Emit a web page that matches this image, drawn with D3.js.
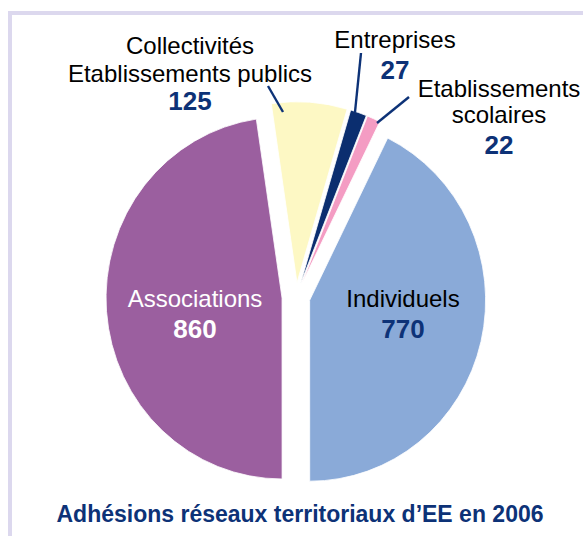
<!DOCTYPE html>
<html>
<head>
<meta charset="utf-8">
<script src="https://cdn.jsdelivr.net/npm/d3@7"></script>
<style>
  body { margin: 0; background: #fff; }
  svg text { font-family: "Liberation Sans", Arial, Helvetica, sans-serif; }
</style>
</head>
<body>
<div id="chart"></div>
<script>
// data
const categories = ["Collectivités / Etablissements publics", "Entreprises", "Etablissements scolaires", "Individuels", "Associations"];
const values = [125, 27, 22, 770, 860];
const colors = ["#fdf8c4", "#0b2e6f", "#f49cc3", "#8aaad8", "#9b5f9f"];
const labelLines = [
    ["Collectivités", "Etablissements publics"],
    ["Entreprises"],
    ["Etablissements", "scolaires"],
    ["Individuels"],
    ["Associations"]
];
const title = "Adhésions réseaux territoriaux d\u2019EE en 2006";

// layout
const width = 583, height = 536;
const cx = 296, cy = 297, radius = 176, explode = 14;
const navy = "#0d3277";

// where each label sits
const labelPos = [
    {x: 190, y: 54, step: 28, valGap: 28, fill: "#000", vfill: navy},
    {x: 395, y: 48, step: 28, valGap: 31, fill: "#000", vfill: navy},
    {x: 499, y: 97, step: 26, valGap: 31, fill: "#000", vfill: navy},
    {x: 403, y: 307, step: 26, valGap: 31, fill: "#000", vfill: navy},
    {x: 195, y: 307, step: 26, valGap: 31, fill: "#fff", vfill: "#fff"}
];
// leader lines for the small outside slices
const leaders = [
    {i: 0, x1: 268, y1: 86, x2: 283, y2: 112},
    {i: 1, x1: 361, y1: 53, x2: 355, y2: 112},
    {i: 2, x1: 409, y1: 97, x2: 377, y2: 123}
];

const svg = d3.select("#chart").append("svg")
    .attr("width", width)
    .attr("height", height);

// frame
svg.append("rect").attr("x", 8).attr("y", 11).attr("width", width - 8).attr("height", 4).attr("fill", "#dcd8ee");
svg.append("rect").attr("x", 8).attr("y", 11).attr("width", 4).attr("height", height - 11).attr("fill", "#dcd8ee");

const startDeg = -8.4;
let pie = d3.pie().sort(null)
    .startAngle(startDeg * Math.PI / 180)
    .endAngle((startDeg + 360) * Math.PI / 180);
let arcs = pie(values);

let arc = d3.arc().innerRadius(0).outerRadius(radius);

let g = svg.append("g")
    .attr("transform", `translate(${cx}, ${cy}) scale(1, 1.028)`);

g.selectAll(".slice")
    .data(arcs)
    .enter()
    .append("path")
    .attr("class", "slice")
    .attr("d", arc)
    .attr("fill", (d, i) => colors[i])
    .attr("stroke", "#fff")
    .attr("stroke-width", 0.8)
    .attr("transform", function (d) {
        let mid = (d.startAngle + d.endAngle) / 2;
        return `translate(${Math.sin(mid) * explode}, ${-Math.cos(mid) * explode})`;
    });

// leader lines
svg.selectAll(".leader")
    .data(leaders)
    .enter()
    .append("line")
    .attr("class", "leader")
    .attr("x1", d => d.x1).attr("y1", d => d.y1)
    .attr("x2", d => d.x2).attr("y2", d => d.y2)
    .attr("stroke", navy)
    .attr("stroke-width", 2.4);

// labels
categories.forEach(function (c, i) {
    let p = labelPos[i];
    let t = svg.append("text")
        .attr("text-anchor", "middle")
        .attr("font-size", 24)
        .attr("fill", p.fill);
    labelLines[i].forEach(function (s, k) {
        t.append("tspan").attr("x", p.x).attr("y", p.y + k * p.step).text(s);
    });
    svg.append("text")
        .attr("x", p.x)
        .attr("y", p.y + (labelLines[i].length - 1) * p.step + p.valGap)
        .attr("text-anchor", "middle")
        .attr("font-size", 26)
        .attr("font-weight", "bold")
        .attr("fill", p.vfill)
        .text(values[i]);
});

svg.append("text")
    .attr("x", 300)
    .attr("y", 522)
    .attr("text-anchor", "middle")
    .attr("font-size", 23)
    .attr("font-weight", "bold")
    .attr("fill", navy)
    .text(title);
</script>
</body>
</html>
